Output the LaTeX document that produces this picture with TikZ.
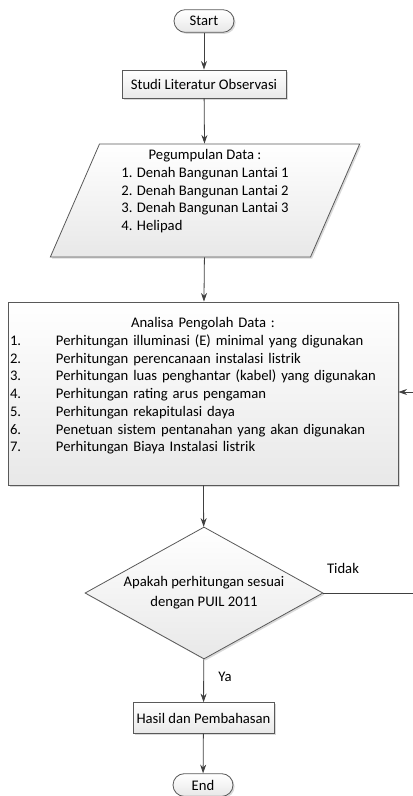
\documentclass[tikz,border=0pt]{standalone}
\usepackage{fontspec}
\setmainfont{Carlito}
\usepackage{tikz}
\usetikzlibrary{shapes.geometric}
\usetikzlibrary{arrows.meta}
\usetikzlibrary{shadows}
\newcommand*\numitem[1]{\makebox[34.5pt][l]{#1}}
\newcommand*\spreadline[2]{\makebox[#1][s]{#2}}

\begin{document}
\begin{tikzpicture}[x=0.75pt,y=-0.75pt,
  font=\fontsize{11}{13.3}\selectfont,
  flowbox/.style={draw=black!65,line width=0.6pt,top color=white,bottom color=black!9,
    drop shadow={shadow xshift=1.2pt,shadow yshift=-1.2pt,opacity=0.3},inner sep=1.5pt},
  terminal/.style={flowbox,rounded corners=8.5pt,minimum width=45pt,minimum height=17pt},
  process/.style={flowbox,rectangle,minimum height=21pt},
  inout/.style={flowbox,trapezium,trapezium left angle=66,trapezium right angle=114,
    trapezium stretches body,minimum width=232pt,minimum height=84.75pt},
  decision/.style={flowbox,diamond,aspect=1.8,minimum width=178.5pt,minimum height=99pt,inner sep=0pt},
  flowline/.style={draw=black!75,line width=0.6pt},
  flowarrow/.style={flowline,-{Stealth[length=6.5pt,width=4.5pt]}}]
\useasboundingbox (0,0) rectangle (413,796);
%start
\node [terminal] (start) at (204,21) {Start};
%studi
\node [process,minimum width=123pt] (studi) at (204,84) {Studi Literatur Observasi};
%data
\node [inout] (data) at (205,200.5) {\begin{tabular}{@{}l@{}}
  \multicolumn{1}{@{}c@{}}{Pegumpulan Data :}\\
  1. Denah Bangunan Lantai 1\\
  2. Denah Bangunan Lantai 2\\
  3. Denah Bangunan Lantai 3\\
  4. Helipad\\
  \mbox{}
  \end{tabular}};
%analisa
\node [process,text width=289.5pt,minimum height=137.25pt,align=left] (analisa) at (203,393.5) {%
  \makebox[\linewidth]{Analisa Pengolah Data :}\\
  \numitem{1.}\spreadline{240.5pt}{Perhitungan illuminasi (E) minimal yang digunakan}\\
  \numitem{2.}\spreadline{189pt}{Perhitungan perencanaan instalasi listrik}\\
  \numitem{3.}\spreadline{249pt}{Perhitungan luas penghantar (kabel) yang digunakan}\\
  \numitem{4.}\spreadline{160.5pt}{Perhitungan rating arus pengaman}\\
  \numitem{5.}\spreadline{136.5pt}{Perhitungan rekapitulasi daya}\\
  \numitem{6.}\spreadline{239pt}{Penetuan sistem pentanahan yang akan digunakan}\\
  \numitem{7.}Perhitungan Biaya Instalasi listrik\\
  \mbox{}};
%decision
\node [decision,align=center] (cek) at (204,593) {Apakah perhitungan sesuai\\[1.5pt]dengan PUIL 2011};
%hasil
\node [process,minimum width=105.75pt,minimum height=23pt] (hasil) at (203.5,718) {Hasil dan Pembahasan};
%end
\node [terminal] (end) at (203,785) {End};
%labels
\node (tidak) at (343,568) {Tidak};
\node (ya) at (225,677) {Ya};
%loop
\coordinate (loopout) at (413,593);
\coordinate (loopin) at (413,392);
%arrows
\draw [flowarrow] (start) -- (studi);
\draw [flowarrow] (studi) -- (data);
\draw [flowarrow] (data) -- (analisa);
\draw [flowarrow] (analisa) -- (cek);
\draw [flowarrow] (cek) -- (hasil);
\draw [flowarrow] (hasil) -- (end);
\draw [flowline] (cek.east) -- (loopout);
\draw [flowarrow] (loopin) -- (loopin -| analisa.east);
\end{tikzpicture}
\end{document}
